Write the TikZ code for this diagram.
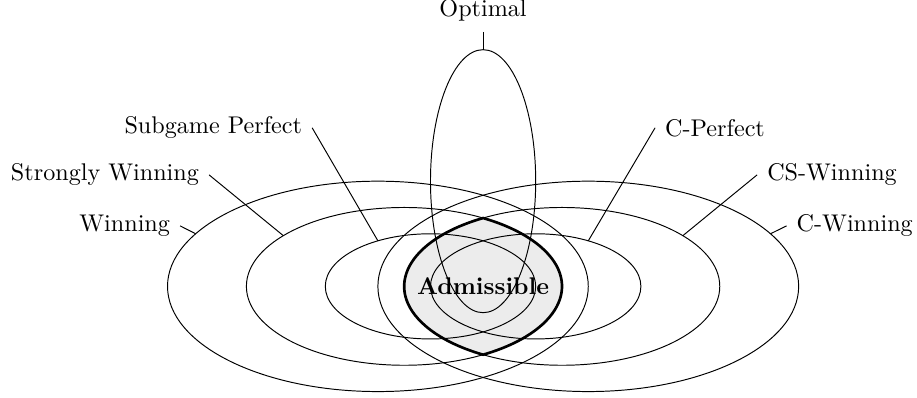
\documentclass[tikz,border=0pt]{standalone}
\tikzset{
  thinline/.style={draw=black, line width=0.4pt},
  admis/.style={draw=black, line width=1.1pt, fill=gray!15},
  lbl/.style={inner sep=4pt, font=\normalsize},
  leader/.style={draw=black, line width=0.4pt}
}
\begin{document}
\begin{tikzpicture}[x=0.3828cm, y=0.3828cm]
\useasboundingbox (-18.37,-4.24) rectangle (16.5,10.89);
% Admissible fill (intersection of the two middle ellipses)
\fill[gray!15] (0,-2.598) arc[start angle=-60, end angle=60, x radius=6, y radius=3]
  arc[start angle=120, end angle=240, x radius=6, y radius=3] -- cycle;
% left ellipses
\draw[thinline] (-4,0) ellipse [x radius=8, y radius=4];
\draw[thinline] (-3,0) ellipse [x radius=6, y radius=3];
\draw[thinline] (-2,0) ellipse [x radius=4, y radius=2];
% right ellipses
\draw[thinline] (4,0) ellipse [x radius=8, y radius=4];
\draw[thinline] (3,0) ellipse [x radius=6, y radius=3];
\draw[thinline] (2,0) ellipse [x radius=4, y radius=2];
% optimal
\draw[thinline] (0,4) ellipse [x radius=2, y radius=5];
% Admissible border
\draw[admis, fill=none] (0,-2.598) arc[start angle=-60, end angle=60, x radius=6, y radius=3]
  arc[start angle=120, end angle=240, x radius=6, y radius=3] -- cycle;
\node[font=\bfseries] (adm) at (0,0) {Admissible};
% points on shapes
\coordinate (p-opt) at (0,9);
\coordinate (p-sp) at ([shift={(-2,0)}]120:4 and 2);
\coordinate (p-sw) at ([shift={(-3,0)}]140:6 and 3);
\coordinate (p-w)  at ([shift={(-4,0)}]150:8 and 4);
\coordinate (p-cp) at ([shift={(2,0)}]60:4 and 2);
\coordinate (p-csw) at ([shift={(3,0)}]40:6 and 3);
\coordinate (p-cw) at ([shift={(4,0)}]30:8 and 4);
% labels
\node[lbl, anchor=south] (l-opt) at (0,9.68) {Optimal};
\node[lbl, anchor=east] (l-sp) at (-6.5,6.03) {Subgame Perfect};
\node[lbl, anchor=east] (l-sw) at (-10.42,4.24) {Strongly Winning};
\node[lbl, anchor=east] (l-w) at (-11.52,2.3) {Winning};
\node[lbl, anchor=west] (l-cp) at (6.54,6.03) {C-Perfect};
\node[lbl, anchor=west] (l-csw) at (10.42,4.24) {CS-Winning};
\node[lbl, anchor=west] (l-cw) at (11.54,2.3) {C-Winning};
% leaders
\draw[leader] (l-opt.south) -- (p-opt);
\draw[leader] (l-sp.east) -- (p-sp);
\draw[leader] (l-sw.east) -- (p-sw);
\draw[leader] (l-w.east) -- (p-w);
\draw[leader] (l-cp.west) -- (p-cp);
\draw[leader] (l-csw.west) -- (p-csw);
\draw[leader] (l-cw.west) -- (p-cw);
\end{tikzpicture}
\end{document}
